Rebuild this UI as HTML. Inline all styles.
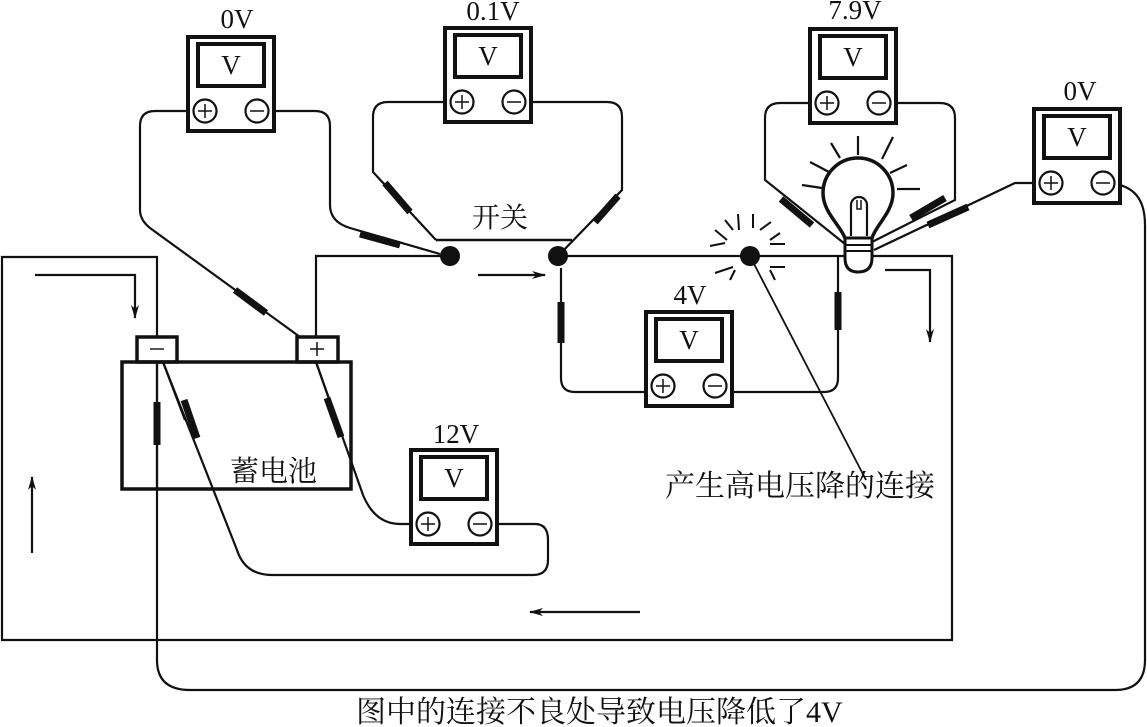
<!DOCTYPE html>
<html><head><meta charset="utf-8"><style>
html,body{margin:0;padding:0;background:#fff;}
svg{display:block;}
text{font-family:"Liberation Serif","Noto Serif CJK SC",serif;fill:#111;}
.cj{font-family:"Liberation Serif","Noto Sans CJK SC",sans-serif;}
</style></head><body>
<svg width="1147" height="727" viewBox="0 0 1147 727" xmlns="http://www.w3.org/2000/svg">
<defs>
<g id="meter">
<rect x="0" y="0" width="86" height="94" fill="#fff" stroke="#111" stroke-width="4"/>
<rect x="10" y="7" width="66" height="42" fill="#fff" stroke="#111" stroke-width="4"/>
<circle cx="17" cy="74" r="11.5" fill="#fff" stroke="#111" stroke-width="2.2"/>
<circle cx="69" cy="74" r="11.5" fill="#fff" stroke="#111" stroke-width="2.2"/>
<path d="M10,74 H24 M17,67 V81 M62,74 H76" stroke="#111" stroke-width="1.5"/>
</g>
<marker id="ah" markerWidth="14" markerHeight="8" refX="13" refY="4" orient="auto" markerUnits="userSpaceOnUse">
<path d="M0,0 L14,4 L0,8 L4,4 Z" fill="#111"/>
</marker>
</defs>
<g fill="none" stroke="#111" stroke-width="2.2">
<path d="M157,337 V257 H2 V640 H952 V256 H558"/>
<path d="M316,337 V256 H450"/>
<path d="M436,240 H572" stroke-width="2.5"/>
<path d="M1108,183 C1135,185 1145,200 1145,225 V660 Q1145,690 1115,690 H190 Q157,690 157,660 V362"/>
<path d="M194,111 H155 Q140,111 140,126 V210 Q140,220 150,228 L300,337"/>
<path d="M268,111 H315 Q330,111 330,126 V205 Q330,222 350,228 L440,254"/>
<path d="M451,102 H388 Q373,102 373,117 V172 L436,240"/>
<path d="M525,102 H607 Q622,102 622,117 V190 L560,254"/>
<path d="M816,103 H780 Q765,103 765,118 V180 L845,244"/>
<path d="M890,103 H940 Q955,103 955,118 V200 L872,242"/>
<path d="M1040,183 H1015 L874,250"/>
<path d="M561,268 V378 Q561,392 575,392 H652"/>
<path d="M726,392 H824 Q838,392 838,378 V256"/>
<path d="M316,362 L363,495 Q375,524 400,524 H418"/>
<path d="M486,524 H535 Q548,524 548,540 V560 Q548,575 533,575 H272 Q245,575 237,550 L163,362"/>
<path d="M753,262 L866,480" stroke-width="1.8"/>
</g>
<g stroke="#111" stroke-width="7" stroke-linecap="butt">
<line x1="235" y1="290" x2="266" y2="313"/>
<line x1="360" y1="234" x2="400" y2="245"/>
<line x1="385" y1="183" x2="410" y2="212"/>
<line x1="618" y1="196" x2="595" y2="222"/>
<line x1="781" y1="199" x2="812" y2="225"/>
<line x1="945" y1="198" x2="911" y2="218"/>
<line x1="968" y1="207" x2="928" y2="225"/>
<line x1="561" y1="302" x2="561" y2="343"/>
<line x1="838" y1="292" x2="838" y2="330"/>
<line x1="157" y1="402" x2="157" y2="445"/>
<line x1="184" y1="400" x2="197" y2="438"/>
<line x1="327" y1="398" x2="341" y2="437"/>
</g>
<g fill="#111">
<circle cx="450" cy="256" r="10"/>
<circle cx="558" cy="256" r="10"/>
<circle cx="750" cy="256" r="10"/>
</g>
<g stroke="#111" stroke-width="2">
<line x1="710" y1="246" x2="725" y2="243"/><line x1="715" y1="230" x2="727" y2="240"/>
<line x1="725" y1="220" x2="733" y2="230"/><line x1="738" y1="214" x2="739" y2="230"/>
<line x1="753" y1="214" x2="753" y2="228"/><line x1="760" y1="230" x2="771" y2="222"/>
<line x1="770" y1="240" x2="780" y2="233"/><line x1="770" y1="244" x2="785" y2="244"/>
<line x1="715" y1="273" x2="733" y2="267"/><line x1="730" y1="280" x2="735" y2="270"/>
<line x1="770" y1="267" x2="785" y2="267"/><line x1="770" y1="270" x2="775" y2="280"/>
</g>
<g fill="none" stroke="#111">
<path d="M845,238 C840,225 823,212 823,193 A35,35 0 1 1 893,193 C893,212 876,225 872,238" stroke-width="3.5" fill="#fff"/>
<path d="M845,238 H872 V258 Q872,272 858,272 Q845,272 845,258 Z" stroke-width="3" fill="#fff"/>
<path d="M845,245 H872 M845,251 H872" stroke-width="2"/>
<path d="M851,236 V205 A8,8 0 0 1 867,205 V236" stroke-width="2.2"/>
<path d="M857,200 V209 H861 V200" stroke-width="1.5"/>
<g stroke-width="2.2">
<line x1="831" y1="143" x2="840" y2="158"/><line x1="858" y1="136" x2="858" y2="155"/>
<line x1="893" y1="137" x2="882" y2="159"/><line x1="810" y1="162" x2="829" y2="172"/>
<line x1="802" y1="185" x2="822" y2="188"/><line x1="907" y1="165" x2="890" y2="173"/>
<line x1="897" y1="189" x2="920" y2="189"/>
</g>
</g>
<g fill="#fff" stroke="#111" stroke-width="3.5">
<rect x="137" y="337" width="40" height="25"/>
<rect x="297" y="337" width="41" height="25"/>
</g>
<rect x="122" y="362" width="229" height="127" fill="none" stroke="#111" stroke-width="3.5"/>
<g fill="none" stroke="#111" stroke-width="2.2">
<path d="M157,362 V489"/>
<path d="M163,362 L185,420"/>
<path d="M316,362 L340,430"/>
</g>
<path d="M150,349 H164" stroke="#555" stroke-width="2"/>
<path d="M310,349 H324 M317,342 V356" stroke="#111" stroke-width="1.5"/>
<g fill="none" stroke="#111" stroke-width="2.2">
<path d="M35,275 H135 V318" marker-end="url(#ah)"/>
<path d="M478,275 H545" marker-end="url(#ah)"/>
<path d="M885,270 H930 V342" marker-end="url(#ah)"/>
<path d="M640,612 H530" marker-end="url(#ah)"/>
<path d="M32,553 V477" marker-end="url(#ah)"/>
</g>
<use href="#meter" x="188" y="37"/>
<use href="#meter" x="445" y="28"/>
<use href="#meter" x="810" y="29"/>
<use href="#meter" x="1034" y="109"/>
<use href="#meter" x="646" y="312"/>
<use href="#meter" x="411" y="450"/>
<g font-size="27" text-anchor="middle">
<text x="231" y="74">V</text>
<text x="488" y="65">V</text>
<text x="853" y="66">V</text>
<text x="1077" y="146">V</text>
<text x="689" y="349">V</text>
<text x="454" y="487">V</text>
<text x="237" y="28">0V</text>
<text x="493" y="20">0.1V</text>
<text x="855" y="19">7.9V</text>
<text x="1080" y="100">0V</text>
<text x="690" y="304">4V</text>
<text x="456" y="443">12V</text>
</g>
<g class="cj">
<text x="472" y="227" font-size="28">开关</text>
<text x="230" y="481" font-size="29">蓄电池</text>
<text x="665" y="496" font-size="30">产生高电压降的连接</text>
<text x="356" y="722" font-size="30">图中的连接不良处导致电压降低了4V</text>
</g>
</svg>
</body></html>
